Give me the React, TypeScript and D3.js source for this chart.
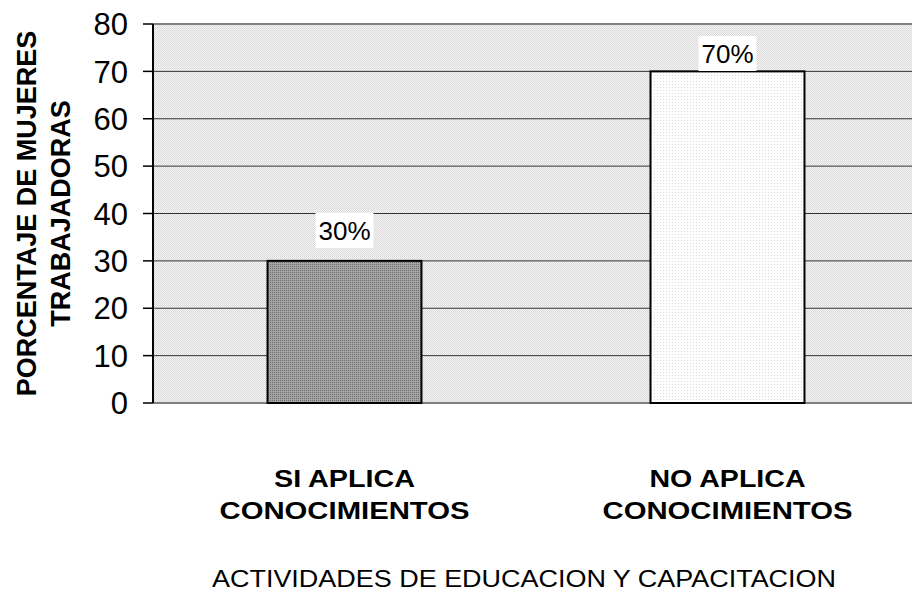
import React from "react";
import * as d3 from "d3";

const categories = ["SI APLICA|CONOCIMIENTOS", "NO APLICA|CONOCIMIENTOS"];
const values = [30, 70];
const valueLabels = ["30%", "70%"];
const yTicks = [0, 10, 20, 30, 40, 50, 60, 70, 80];

const W = 912;
const H = 593;
const margin = { top: 24, left: 153, bottom: 190 };
const plotRight = 919;

// rough rendered widths of the wider (stretched) labels
const lineWidths: Record<string, number> = {
  "SI APLICA": 141,
  "NO APLICA": 156,
  CONOCIMIENTOS: 250,
};

export default function App() {
  const x = d3
    .scaleBand<string>()
    .domain(categories)
    .range([margin.left, plotRight])
    .paddingInner(0.598)
    .paddingOuter(0.299);
  const y = d3.scaleLinear().domain([0, 80]).range([H - margin.bottom, margin.top]);
  const font = "Liberation Sans, Arial, sans-serif";
  const fills = ["url(#darkDots)", "url(#lightDots)"];
  const midY = (y(0) + y(80)) / 2;

  return (
    <svg width={W} height={H} style={{ display: "block", position: "absolute", left: 0, top: 0 }}>
      <defs>
        <pattern id="bgDots" width="2" height="2" patternUnits="userSpaceOnUse">
          <rect width="2" height="2" fill="#f6f6f6" />
          <rect width="1" height="1" fill="#d8d8d8" />
          <rect x="1" y="1" width="1" height="1" fill="#d8d8d8" />
        </pattern>
        <pattern id="darkDots" width="2" height="2" patternUnits="userSpaceOnUse">
          <rect width="2" height="2" fill="#a4a4a4" />
          <rect width="1" height="1" fill="#6e6e6e" />
        </pattern>
        <pattern id="lightDots" width="3" height="3" patternUnits="userSpaceOnUse">
          <rect width="3" height="3" fill="#ffffff" />
          <rect width="1" height="1" fill="#dddddd" />
        </pattern>
      </defs>
      <rect x={0} y={0} width={W} height={H} fill="#fff" />
      <rect
        x={margin.left}
        y={y(80)}
        width={plotRight - margin.left}
        height={y(0) - y(80)}
        fill="url(#bgDots)"
      />
      <line x1={margin.left} x2={plotRight} y1={y(80)} y2={y(80)} stroke="#808080" strokeWidth={2} />
      {yTicks.filter((t) => t > 0 && t < 80).map((t) => (
        <line key={t} x1={margin.left} x2={plotRight} y1={y(t)} y2={y(t)} stroke="#333" strokeWidth={1} />
      ))}
      <line x1={margin.left} x2={plotRight} y1={y(0)} y2={y(0)} stroke="#808080" strokeWidth={2} />

      {/* bars + value labels */}
      {categories.map((c, i) => {
        const cx = x(c)! + x.bandwidth() / 2;
        // label sits above the bar, pushed down if it would leave the plot
        const base = Math.max(y(values[i]) - 21, y(80) + 39);
        return (
          <g key={c}>
            <rect
              x={x(c)!}
              y={y(values[i])}
              width={x.bandwidth()}
              height={y(0) - y(values[i])}
              fill={fills[i]}
              stroke="#000"
              strokeWidth={2}
            />
            <rect x={cx - 29} y={base - 27} width={58} height={35} fill="#fff" />
            <text x={cx} y={base} textAnchor="middle" fontFamily={font} fontSize={26} fill="#000">
              {valueLabels[i]}
            </text>
          </g>
        );
      })}

      {/* y axis */}
      <line x1={margin.left} x2={margin.left} y1={y(80)} y2={y(0)} stroke="#000" strokeWidth={2} />
      {yTicks.map((t) => (
        <g key={t}>
          <line x1={margin.left - 10} x2={margin.left} y1={y(t)} y2={y(t)} stroke="#000" strokeWidth={1.5} />
          <text
            x={margin.left - 25}
            y={y(t)}
            dy="0.36em"
            textAnchor="end"
            fontFamily={font}
            fontSize={31}
            fill="#000"
          >
            {t}
          </text>
        </g>
      ))}

      {/* y title */}
      <text
        transform={`translate(36, ${midY}) rotate(-90)`}
        textAnchor="middle"
        fontFamily={font}
        fontSize={27}
        fontWeight="bold"
        fill="#000"
      >
        PORCENTAJE DE MUJERES
      </text>
      <text
        transform={`translate(70, ${midY}) rotate(-90)`}
        textAnchor="middle"
        fontFamily={font}
        fontSize={27}
        fontWeight="bold"
        fill="#000"
      >
        TRABAJADORAS
      </text>

      {/* category labels */}
      {categories.map((c) =>
        c.split("|").map((line, j) => (
          <text
            key={c + j}
            x={x(c)! + x.bandwidth() / 2}
            y={487 + j * 32}
            textAnchor="middle"
            fontFamily={font}
            fontSize={24}
            fontWeight="bold"
            fill="#000"
            textLength={lineWidths[line]}
            lengthAdjust="spacingAndGlyphs"
          >
            {line}
          </text>
        ))
      )}

      {/* x title */}
      <text
        x={524}
        y={587}
        textAnchor="middle"
        fontFamily={font}
        fontSize={23}
        fill="#000"
        textLength={624}
        lengthAdjust="spacingAndGlyphs"
      >
        ACTIVIDADES DE EDUCACION Y CAPACITACION
      </text>
    </svg>
  );
}
